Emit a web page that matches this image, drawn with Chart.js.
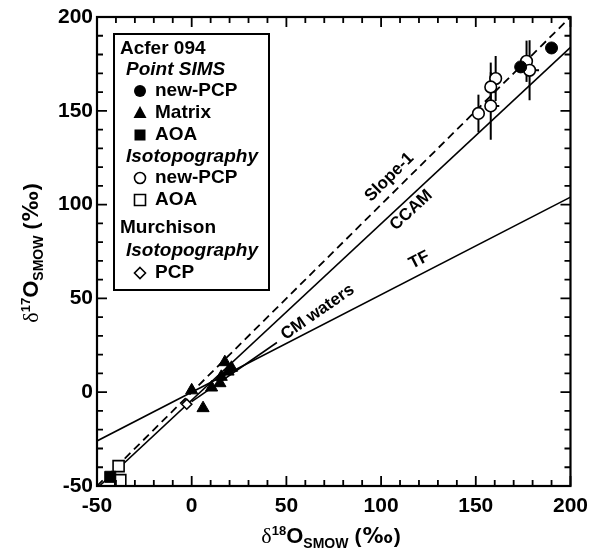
<!DOCTYPE html>
<html><head><meta charset="utf-8">
<script src="https://cdn.jsdelivr.net/npm/chart.js@4.4.1/dist/chart.umd.min.js"></script>
<style>html,body{margin:0;padding:0;background:#fff}canvas{display:block}</style>
</head><body>
<canvas id="c" width="596" height="550"></canvas>
<script>
// ---- axis ----
const axisRange = [-50, 200];
const majorStep = 50;
const minorStep = 10;

// ---- Acfer 094, point SIMS ----
const simsPcpX = [190.0, 173.7];
const simsPcpY = [183.5, 173.4];
const matrixX = [0.0, 6.0, 10.5, 14.9, 15.6, 17.5, 19.2, 21.0];
const matrixY = [1.0, -8.5, 2.5, 4.8, 8.2, 16.0, 11.0, 13.0];
const simsAoaX = [-43.0];
const simsAoaY = [-45.1];
// ---- Acfer 094, isotopography ----
const isoPcpX = [176.8, 178.4, 160.5, 157.9, 157.9, 151.4];
const isoPcpY = [176.4, 171.6, 167.2, 162.7, 152.6, 148.6];
const isoPcpYErr = [11, 16, 12, 13, 18, 10];
const isoPcpXErrRight = [0, 5, 3, 0, 4.5, 0];
const isoAoaX = [-38.6, -37.7];
const isoAoaY = [-39.4, -46.9];
// ---- Murchison, isotopography ----
const murchX = [-2.6];
const murchY = [-6.4];
// ---- reference lines ----
const slope1X = [-50, 200], slope1Y = [-50, 200];
const ccamX = [-48.7, 200], ccamY = [-50, 183.8];
const tfX = [-50, 200], tfY = [-26, 104];
const cmwX = [0, 45], cmwY = [-5, 26.5];

const zip = (xs, ys) => xs.map((v, i) => ({x: v, y: ys[i]}));
const F = '"Liberation Sans", Arial, Helvetica, sans-serif';
const SERIF = '"Liberation Serif", "DejaVu Serif", serif';
const DJ = '"DejaVu Sans", sans-serif';

function marker(ctx, kind, x, y) {
  ctx.save();
  ctx.lineWidth = 1.6; ctx.strokeStyle = '#000'; ctx.fillStyle = '#000';
  ctx.beginPath();
  if (kind === 'fc') { ctx.arc(x, y, 6, 0, Math.PI * 2); ctx.fill(); }
  else if (kind === 'oc') { ctx.arc(x, y, 5.5, 0, Math.PI * 2); ctx.fillStyle = '#fff'; ctx.fill(); ctx.stroke(); }
  else if (kind === 'tri') { ctx.moveTo(x, y - 7); ctx.lineTo(x + 6.5, y + 5); ctx.lineTo(x - 6.5, y + 5); ctx.closePath(); ctx.fill(); }
  else if (kind === 'fs') { ctx.rect(x - 5.5, y - 5.5, 11, 11); ctx.fill(); }
  else if (kind === 'os') { ctx.rect(x - 5.5, y - 5.5, 11, 11); ctx.fillStyle = '#fff'; ctx.fill(); ctx.stroke(); }
  else if (kind === 'od') { ctx.moveTo(x, y - 5.5); ctx.lineTo(x + 5.5, y); ctx.lineTo(x, y + 5.5); ctx.lineTo(x - 5.5, y); ctx.closePath(); ctx.fillStyle = '#fff'; ctx.fill(); ctx.stroke(); }
  ctx.restore();
}

function richText(ctx, parts, cx, baseY, rot) {
  ctx.save();
  let total = 0;
  parts.forEach(p => { ctx.font = p.f; p.w = ctx.measureText(p.t).width + (p.gap || 0); total += p.w; });
  ctx.translate(cx, baseY);
  if (rot) ctx.rotate(rot);
  let xx = -total / 2;
  ctx.fillStyle = '#000'; ctx.textBaseline = 'alphabetic'; ctx.textAlign = 'left';
  parts.forEach(p => { ctx.font = p.f; ctx.fillText(p.t, xx + (p.pre || 0), p.dy); xx += p.w; });
  ctx.restore();
}

const deco = {
  id: 'deco',
  beforeDatasetsDraw(chart) {
    const {ctx, scales: {x, y}} = chart;
    ctx.save(); ctx.strokeStyle = '#000'; ctx.lineWidth = 2;
    isoPcpX.forEach((vx, i) => {
      const px = x.getPixelForValue(vx);
      ctx.beginPath();
      ctx.moveTo(px, y.getPixelForValue(isoPcpY[i] - isoPcpYErr[i]));
      ctx.lineTo(px, y.getPixelForValue(isoPcpY[i] + isoPcpYErr[i]));
      if (isoPcpXErrRight[i]) {
        const py = y.getPixelForValue(isoPcpY[i]);
        ctx.moveTo(px, py); ctx.lineTo(x.getPixelForValue(vx + isoPcpXErrRight[i]), py);
      }
      ctx.stroke();
    });
    ctx.restore();
  },
  afterDatasetsDraw(chart) {
    const {ctx, scales: {x, y}} = chart;
    const labs = [
      {t: 'Slope-1', lx: slope1X, ly: slope1Y, at: [104.4, 114.6]},
      {t: 'CCAM', lx: ccamX, ly: ccamY, at: [115.9, 97]},
      {t: 'TF', lx: tfX, ly: tfY, at: [120.2, 70.4]},
      {t: 'CM waters', lx: cmwX, ly: cmwY, at: [66.5, 42.6]}
    ];
    ctx.save();
    ctx.fillStyle = '#000'; ctx.font = 'bold 17px ' + F;
    ctx.textAlign = 'center'; ctx.textBaseline = 'middle';
    labs.forEach(l => {
      const a = Math.atan2(y.getPixelForValue(l.ly[1]) - y.getPixelForValue(l.ly[0]),
                           x.getPixelForValue(l.lx[1]) - x.getPixelForValue(l.lx[0]));
      ctx.save();
      ctx.translate(x.getPixelForValue(l.at[0]), y.getPixelForValue(l.at[1]));
      ctx.rotate(a);
      ctx.fillText(l.t, 0, 0);
      ctx.restore();
    });
    ctx.restore();
  },
  afterDraw(chart) {
    const {ctx, chartArea: ca, scales: {x, y}} = chart;
    ctx.save();
    ctx.strokeStyle = '#000'; ctx.lineWidth = 2.2;
    ctx.strokeRect(ca.left, ca.top, ca.right - ca.left, ca.bottom - ca.top);
    ctx.lineWidth = 1.8;
    ctx.beginPath();
    for (let v = axisRange[0]; v <= axisRange[1]; v += minorStep) {
      const len = (v % majorStep === 0) ? 10 : 6;
      const px = x.getPixelForValue(v), py = y.getPixelForValue(v);
      ctx.moveTo(px, ca.bottom); ctx.lineTo(px, ca.bottom - len);
      ctx.moveTo(px, ca.top); ctx.lineTo(px, ca.top + len);
      ctx.moveTo(ca.left, py); ctx.lineTo(ca.left + len, py);
      ctx.moveTo(ca.right, py); ctx.lineTo(ca.right - len, py);
    }
    ctx.stroke();

    // legend
    ctx.fillStyle = '#fff';
    ctx.fillRect(114, 34, 155, 256);
    ctx.lineWidth = 2; ctx.strokeRect(114, 34, 155, 256);
    ctx.fillStyle = '#000'; ctx.textBaseline = 'middle'; ctx.textAlign = 'left';
    const B = 'bold 19px ' + F, BI = 'italic bold 19px ' + F;
    const rows = [
      ['h', 'Acfer 094', 49], ['s', 'Point SIMS', 70],
      ['fc', 'new-PCP', 91], ['tri', 'Matrix', 113], ['fs', 'AOA', 135],
      ['s', 'Isotopography', 157], ['oc', 'new-PCP', 178], ['os', 'AOA', 200],
      ['h', 'Murchison', 228], ['s', 'Isotopography', 251], ['od', 'PCP', 273]
    ];
    rows.forEach(r => {
      if (r[0] === 'h') { ctx.font = B; ctx.fillText(r[1], 120, r[2]); }
      else if (r[0] === 's') { ctx.font = BI; ctx.fillText(r[1], 126, r[2]); }
      else { marker(ctx, r[0], 140, r[2]); ctx.fillStyle = '#000'; ctx.font = B; ctx.fillText(r[1], 155, r[2]); }
    });

    // axis titles
    const mk = (sup) => [
      {t: 'δ', f: '22px ' + SERIF, dy: 0},
      {t: sup, f: 'bold 13px ' + F, dy: -8},
      {t: 'O', f: 'bold 22px ' + F, dy: 0},
      {t: 'SMOW', f: 'bold 14px ' + F, dy: 5},
      {t: '(', f: 'bold 21px ' + F, dy: 0, pre: 6, gap: 7},
      {t: '‰', f: 'bold 21px ' + DJ, dy: 0, gap: 1},
      {t: ')', f: 'bold 21px ' + F, dy: 0}
    ];
    richText(ctx, mk('18'), 331, 543, 0);
    richText(ctx, mk('17'), 38, 253, -Math.PI / 2);
    ctx.restore();
  }
};

const pointDs = (label, xs, ys, style, r, filled, ord) => ({
  label, data: zip(xs, ys), pointStyle: style, pointRadius: r, pointHoverRadius: r,
  backgroundColor: filled ? '#000' : '#fff', borderColor: '#000', borderWidth: filled ? 1 : 1.6,
  showLine: false, order: ord, clip: false
});
const lineDs = (label, xs, ys, dash) => ({
  label, data: zip(xs, ys), showLine: true, pointRadius: 0, borderColor: '#000',
  borderWidth: dash ? 1.8 : 1.6, borderDash: dash || [], fill: false, order: 20
});

new Chart(document.getElementById('c'), {
  type: 'scatter',
  data: {
    datasets: [
      pointDs('Point SIMS new-PCP', simsPcpX, simsPcpY, 'circle', 6, true, 1),
      pointDs('Matrix', matrixX, matrixY, 'triangle', 7, true, 2),
      pointDs('Point SIMS AOA', simsAoaX, simsAoaY, 'rect', 7.8, true, 3),
      pointDs('Isotopography new-PCP', isoPcpX, isoPcpY, 'circle', 5.8, false, 4),
      pointDs('Isotopography AOA', isoAoaX, isoAoaY, 'rect', 7.8, false, 5),
      pointDs('Murchison PCP', murchX, murchY, 'rectRot', 5, false, 6),
      lineDs('Slope-1', slope1X, slope1Y, [8, 5]),
      lineDs('CCAM', ccamX, ccamY),
      lineDs('TF', tfX, tfY),
      lineDs('CM waters', cmwX, cmwY)
    ]
  },
  options: {
    responsive: false, animation: false, devicePixelRatio: 1,
    layout: {padding: {top: 17, right: 25, left: 0, bottom: 0}},
    plugins: {legend: {display: false}, tooltip: {enabled: false}},
    scales: {
      x: {
        type: 'linear', min: axisRange[0], max: axisRange[1],
        ticks: {stepSize: majorStep, color: '#000', font: {family: F, size: 21, weight: 'bold'}, padding: 8, maxRotation: 0},
        grid: {display: false, drawTicks: false}, border: {display: false},
        afterFit: s => { s.height = 64; }
      },
      y: {
        type: 'linear', min: axisRange[0], max: axisRange[1],
        ticks: {stepSize: majorStep, color: '#000', font: {family: F, size: 21, weight: 'bold'}, padding: 4},
        grid: {display: false, drawTicks: false}, border: {display: false},
        afterFit: s => { s.width = 97; }
      }
    }
  },
  plugins: [deco]
});
</script>
</body></html>
